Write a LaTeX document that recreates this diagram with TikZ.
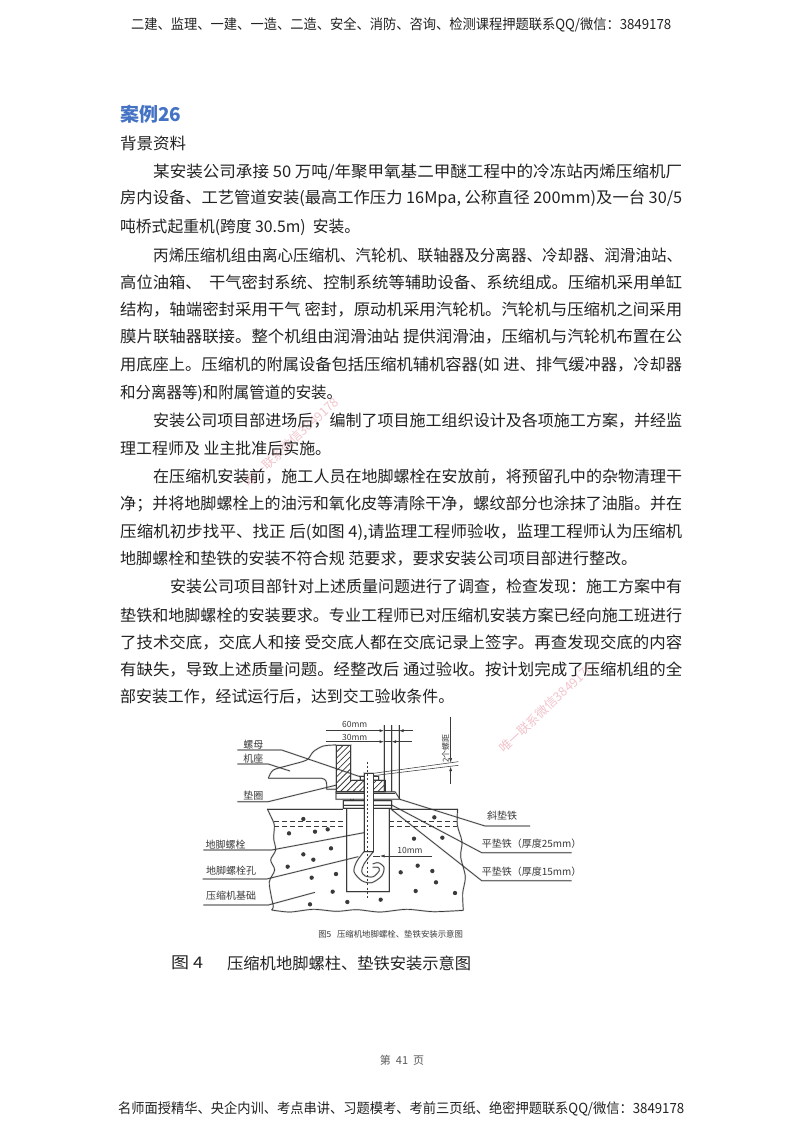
\documentclass[tikz,border=0pt]{standalone}
\usepackage{fontspec}
\usepackage{graphicx}
\usetikzlibrary{patterns.meta,arrows.meta}
\setmainfont{Noto Sans CJK SC}
\definecolor{bodyink}{HTML}{222222}
\definecolor{headblue}{HTML}{4472C4}
\definecolor{wmpink}{HTML}{F2C4CC}
\definecolor{figink}{HTML}{3A3A3A}
\tikzset{
  tl/.style={anchor=west,inner sep=0pt,text=bodyink},
  fl/.style={inner sep=0pt,text=figink,font=\fontsize{10}{11}\selectfont},
  ln/.style={draw=figink,line width=.7pt,preaction={draw=black,opacity=.18,line width=1.7pt}},
  thin line/.style={draw=figink,line width=.55pt},
  dimarr/.style={-{Latex[length=4.5pt,width=3pt]},draw=figink,line width=.55pt},
  wm/.style={inner sep=0pt,text=wmpink,font=\fontsize{12.5}{13}\selectfont},
}
% name, y, x left, x right, font size, text
\newcommand{\tline}[6]{%
  \pgfmathsetmacro{\tlw}{#4-#3}%
  \node[tl] (#1) at (#3,#2) {\resizebox{\tlw pt}{\height}{\fontsize{#5}{#5}\selectfont #6}};}
\begin{document}
\begin{tikzpicture}[x=1pt,y=-1pt]
\useasboundingbox[fill=white] (0,0) rectangle (800,1132);

% watermarks (under the text)
\node[wm,rotate=43] (wmA) at (291,442) {唯一联系微信3849178};
\node[wm,rotate=43] (wmB) at (546,708) {唯一联系微信3849178};

% header and footer
\tline{hdr}{25}{131}{671}{14}{二建、监理、一建、一造、二造、安全、消防、咨询、检测课程押题联系QQ/微信：3849178}
\tline{ftr}{1109}{118}{684}{14}{名师面授精华、央企内训、考点串讲、习题模考、考前三页纸、绝密押题联系QQ/微信：3849178}
\node[inner sep=0pt,text=black!65,font=\fontsize{11}{12}\selectfont] (pg) at (402,1060) {第\ \ 41\ \ 页};

% heading
\node[tl,text=headblue,font=\fontsize{19}{20}\selectfont\bfseries] (head) at (120,114) {案例26};
\tline{bg}{143}{120}{186}{16}{背景资料}

\tline{a1}{172}{153}{682}{16}{某安装公司承接 50 万吨/年聚甲氧基二甲醚工程中的冷冻站丙烯压缩机厂}
\tline{a2}{199}{120}{682}{16}{房内设备、工艺管道安装(最高工作压力 16Mpa, 公称直径 200mm)及一台 30/5}
\tline{a3}{227}{120}{360}{16}{吨桥式起重机(跨度 30.5m)\ \ 安装。}

\tline{b1}{255}{153}{682}{16}{丙烯压缩机组由离心压缩机、汽轮机、联轴器及分离器、冷却器、润滑油站、}
\tline{b2}{282}{120}{682}{16}{高位油箱、\ \ 干气密封系统、控制系统等辅助设备、系统组成。压缩机采用单缸}
\tline{b3}{310}{120}{682}{16}{结构，轴端密封采用干气\ 密封，原动机采用汽轮机。汽轮机与压缩机之间采用}
\tline{b4}{337}{120}{682}{16}{膜片联轴器联接。整个机组由润滑油站\ 提供润滑油，压缩机与汽轮机布置在公}
\tline{b5}{365}{120}{682}{16}{用底座上。压缩机的附属设备包括压缩机辅机容器(如\ 进、排气缓冲器，冷却器}
\tline{b6}{393}{120}{342}{16}{和分离器等)和附属管道的安装。}

\tline{c1}{421}{153}{682}{16}{安装公司项目部进场后，编制了项目施工组织设计及各项施工方案，并经监}
\tline{c2}{448}{120}{331}{16}{理工程师及\ 业主批准后实施。}

\tline{d1}{477}{153}{682}{16}{在压缩机安装前，施工人员在地脚螺栓在安放前，将预留孔中的杂物清理干}
\tline{d2}{504}{120}{682}{16}{净；并将地脚螺栓上的油污和氧化皮等清除干净，螺纹部分也涂抹了油脂。并在}
\tline{d3}{532}{120}{682}{16}{压缩机初步找平、找正\ 后(如图 4),请监理工程师验收，监理工程师认为压缩机}
\tline{d4}{559}{120}{637}{16}{地脚螺栓和垫铁的安装不符合规\ 范要求，要求安装公司项目部进行整改。}

\tline{e1}{587}{170}{682}{16}{安装公司项目部针对上述质量问题进行了调查，检查发现：施工方案中有}
\tline{e2}{615}{120}{682}{16}{垫铁和地脚螺栓的安装要求。专业工程师已对压缩机安装方案已经向施工班进行}
\tline{e3}{643}{120}{682}{16}{了技术交底，交底人和接\ 受交底人都在交底记录上签字。再查发现交底的内容}
\tline{e4}{670}{120}{682}{16}{有缺失，导致上述质量问题。经整改后\ 通过验收。按计划完成了压缩机组的全}
\tline{e5}{697}{120}{454}{16}{部安装工作，经试运行后，达到交工验收条件。}

% figure caption (typed)
\tline{capA}{963}{171}{203}{16}{图 4}
\tline{capB}{963}{227}{471}{16}{压缩机地脚螺柱、垫铁安装示意图}

% ---------- figure, in units of a third of a pixel ----------
\begin{scope}[shift={(180,710)},x=.33333pt,y=-.33333pt]
% foundation outline
\draw[ln] plot[smooth] coordinates {(262,297) (272,318) (283,345) (281,385) (287,420) (272,450) (284,480) (268,515) (274,560) (280,590) (275,600)};
\draw[ln] plot[smooth] coordinates {(275,600) (330,606) (400,598) (470,604) (530,599) (600,606) (680,598) (760,605) (850,601)};
\draw[ln] plot[smooth] coordinates {(850,601) (848,550) (856,500) (842,440) (846,395) (832,345) (833,297)};
\draw[ln] (262,297) -- (490,297) (635,297) -- (833,297);
% dashed grout lines
\draw[thin line,dash pattern=on 5pt off 3pt] (283,333) -- (500,333) (628,333) -- (830,333);
\draw[thin line,dash pattern=on 5pt off 3pt] (283,348) -- (500,348) (628,348) -- (830,348);
% bolt hole
\draw[ln] (500,297) -- (500,545) -- (628,545) -- (628,297);
% aggregate
\foreach \p in {(370,327),(327,370),(405,365),(443,358),(453,415),(370,433),(400,449),(323,470),(395,503),(468,492),(458,545),(390,583),(502,576),(602,569),(662,487),(713,467),(757,483),(768,517),(707,543),(825,549),(702,386),(787,383),(763,322)}
  \fill[figink] \p circle (6.5);
% machine base
\draw[ln] plot[smooth] coordinates {(265,205) (280,180) (330,165) (380,150) (400,125) (430,108) (468,105)};
\draw[ln] (265,205) -- (425,205) .. controls (438,207) and (440,215) .. (440,225) -- (440,238) -- (468,238);
% hatched foot
\draw[ln,pattern={Lines[angle=45,distance=4.4pt,line width=.8pt]},pattern color=figink]
  (468,105) -- (512,105) -- (512,210) -- (552,210) -- (552,245) -- (468,245) -- cycle;
\draw[ln,pattern={Lines[angle=45,distance=4.4pt,line width=.8pt]},pattern color=figink]
  (580,210) -- (615,210) -- (615,245) -- (580,245) -- cycle;
% sole plate and wedge
\draw[ln] (468,245) -- (645,245) -- (660,268) -- (468,268) -- cycle;
\draw[ln] (645,250) -- (468,250);
% pads
\draw[ln] (490,272) rectangle (635,295);
\draw[ln] (490,285) -- (635,285);
\draw[ln] (512,268) -- (512,272) (520,268) -- (520,272);
% nut and washer
\draw[ln] (540,198) rectangle (596,210);
% bolt with hook
\draw[ln,fill=white] (552,189) -- (580,189) -- (580,425) -- (552,425) -- cycle;
\draw[ln] plot[smooth] coordinates {(552,425) (530,455) (522,485) (545,512) (575,518) (605,498) (612,472) (595,458) (578,462)};
\draw[ln] plot[smooth] coordinates {(580,425) (552,462) (545,485) (556,498) (580,500) (598,482) (594,472) (578,472)};
\draw[figink,line width=.9pt,dash pattern=on 2pt off 2.2pt] (562,155) -- (562,570);
% dimension verticals
\draw[ln] (612,45) -- (612,245);
\draw[ln] (635,45) -- (635,245);
\draw[ln] (657,45) -- (657,268);
% labels of dimensions
\node[fl,font=\fontsize{8.5}{10}\selectfont] (d60) at (524,42) {60mm};
\node[fl,font=\fontsize{8.5}{10}\selectfont] (d30) at (524,82) {30mm};
\node[fl,font=\fontsize{8.5}{10}\selectfont] (d10) at (690,420) {10mm};
\node[fl,font=\fontsize{8}{10}\selectfont,rotate=90] (pitch) at (797,115) {2个螺距};
\coordinate (v60a) at (612,62); \coordinate (v60b) at (657,62);
\coordinate (v30a) at (612,95); \coordinate (v30b) at (635,95);
\coordinate (l60) at (437,62); \coordinate (r60) at (700,62);
\coordinate (l30) at (437,95); \coordinate (r30) at (695,95);
\draw[dimarr] (l60) -- (v60a);
\draw[dimarr] (r60) -- (v60b);
\draw[dimarr] (l30) -- (v30a);
\draw[dimarr] (r30) -- (v30b);
\draw[thin line] (612,62) -- (657,62) (612,95) -- (635,95);
% 10 mm
\coordinate (t10a) at (580,438); \coordinate (t10b) at (600,438); \coordinate (t10c) at (755,438);
\draw[dimarr] (t10c) -- (t10b);
\draw[thin line] (t10a) -- (t10b);
% thread pitch
\coordinate (pt1) at (580,190); \coordinate (pt2) at (835,155);
\coordinate (pt3) at (580,197); \coordinate (pt4) at (835,166);
\draw[thin line] (pt1) -- (pt2) (pt3) -- (pt4);
\coordinate (ps) at (812,20); \coordinate (pe) at (812,222);
\coordinate (pa) at (812,158); \coordinate (pb) at (812,170);
\draw[dimarr] (ps) -- (pa);
\draw[dimarr] (pe) -- (pb);
% left labels and leaders
\node[fl] (nut) at (220,103) {螺母};
\node[fl] (base) at (220,147) {机座};
\node[fl] (wash) at (220,258) {垫圈};
\node[fl] (bolt) at (137,403) {地脚螺栓};
\node[fl] (hole) at (153,483) {地脚螺栓孔};
\node[fl] (fund) at (153,557) {压缩机基础};
\coordinate (nutS) at (172,120); \coordinate (nutK) at (305,120); \coordinate (nutE) at (540,200);
\coordinate (baseS) at (172,162); \coordinate (baseK) at (265,162); \coordinate (baseE) at (330,183);
\coordinate (washS) at (172,275); \coordinate (washK) at (265,275); \coordinate (washE) at (470,225);
\coordinate (boltS) at (70,420); \coordinate (boltK) at (275,420); \coordinate (boltE) at (552,368);
\coordinate (holeS) at (68,507); \coordinate (holeK) at (260,507); \coordinate (holeE) at (535,440);
\coordinate (fundS) at (70,585); \coordinate (fundK) at (265,585); \coordinate (fundE) at (405,547);
\draw[ln] (nutS) -- (nutK) -- (nutE);
\draw[ln] (baseS) -- (baseK) -- (baseE);
\draw[ln] (washS) -- (washK) -- (washE);
\draw[ln] (boltS) -- (boltK) -- (boltE);
\draw[ln] (holeS) -- (holeK) -- (holeE);
\draw[ln] (fundS) -- (fundK) -- (fundE);
% right labels and leaders
\node[fl] (taper) at (966,318) {斜垫铁};
\node[fl] (flatA) at (1055,400) {平垫铁（厚度25mm）};
\node[fl] (flatB) at (1055,485) {平垫铁（厚度15mm）};
\coordinate (taperS) at (1050,348); \coordinate (taperK) at (915,348); \coordinate (taperE) at (660,268);
\coordinate (flatAS) at (1175,428); \coordinate (flatAK) at (905,428); \coordinate (flatAE) at (635,285);
\coordinate (flatBS) at (1175,512); \coordinate (flatBK) at (905,512); \coordinate (flatBE) at (630,295);
\draw[ln] (taperS) -- (taperK) -- (taperE);
\draw[ln] (flatAS) -- (flatAK) -- (flatAE);
\draw[ln] (flatBS) -- (flatBK) -- (flatBE);
% figure's own caption
\node[fl,font=\fontsize{8.4}{10}\selectfont] (cap5) at (632,672) {图5\ \ \ 压缩机地脚螺栓、垫铁安装示意图};
\end{scope}
\end{tikzpicture}
\end{document}
